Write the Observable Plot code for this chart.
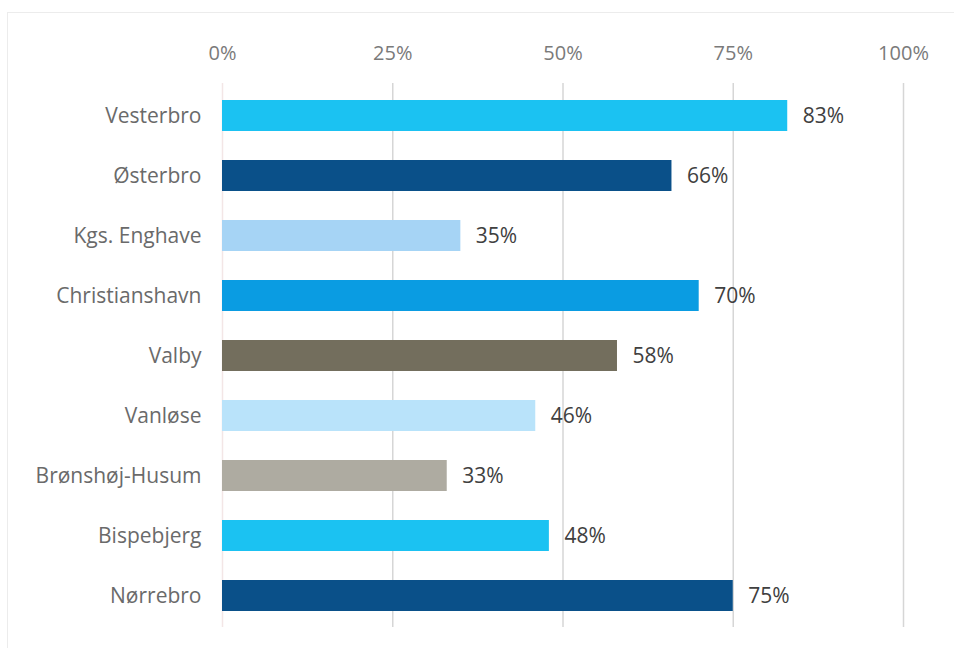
<!DOCTYPE html>
<html>
<head>
<meta charset="utf-8">
<script src="https://cdn.jsdelivr.net/npm/d3@7"></script>
<script src="https://cdn.jsdelivr.net/npm/@observablehq/plot@0.6"></script>
<style>
  html, body { margin: 0; padding: 0; background: #fff; }
  #frame { position: absolute; left: 7px; top: 12px; width: 960px; height: 640px; border: 1px solid #ececec; box-sizing: border-box; }
  #chart { position: absolute; left: 0; top: 0; }
</style>
</head>
<body>
<div id="frame"></div>
<div id="chart"></div>
<script>
const districts = ["Vesterbro", "Østerbro", "Kgs. Enghave", "Christianshavn", "Valby", "Vanløse", "Brønshøj-Husum", "Bispebjerg", "Nørrebro"];
const shares = [0.83, 0.66, 0.35, 0.70, 0.58, 0.46, 0.33, 0.48, 0.75];
const colors = ["#1bc2f2", "#0a5089", "#a6d4f5", "#0a9ce2", "#736e5d", "#b9e3fa", "#aeaba1", "#1bc2f2", "#0a5089"];
const xTicks = [0, 0.25, 0.5, 0.75, 1];

const data = districts.map((d, i) => ({district: d, share: shares[i], color: colors[i]}));
const font = "'Open Sans', sans-serif";

const chart = Plot.plot({
  width: 954,
  height: 648,
  marginTop: 83,
  marginBottom: 21,
  marginLeft: 222,
  marginRight: 51,
  style: {fontFamily: font, fontSize: "21px", background: "transparent"},
  x: {domain: [0, 1], ticks: xTicks, tickFormat: d3.format(".0%")},
  y: {domain: districts, paddingInner: 0.49, paddingOuter: 0.245},
  marks: [
    Plot.ruleX(xTicks.slice(1), {stroke: "#d6d6d6", strokeWidth: 1.5}),
    Plot.ruleX([0], {stroke: "#f3e6e6", strokeWidth: 1.5}),
    Plot.axisX({anchor: "top", ticks: xTicks, tickFormat: d3.format(".0%"), tickSize: 0, tickPadding: 24, label: null, fill: "#7a7a7a", fontSize: 20}),
    Plot.axisY({anchor: "left", tickSize: 0, tickPadding: 21, label: null, fill: "#6a6a6a", fontSize: 21}),
    Plot.barX(data, {x: "share", y: "district", fill: "color"}),
    Plot.text(data, {x: "share", y: "district", text: d => d3.format(".0%")(d.share), textAnchor: "start", dx: 15, fill: "#404040", fontSize: 21})
  ]
});
document.getElementById("chart").append(chart);
</script>
</body>
</html>
